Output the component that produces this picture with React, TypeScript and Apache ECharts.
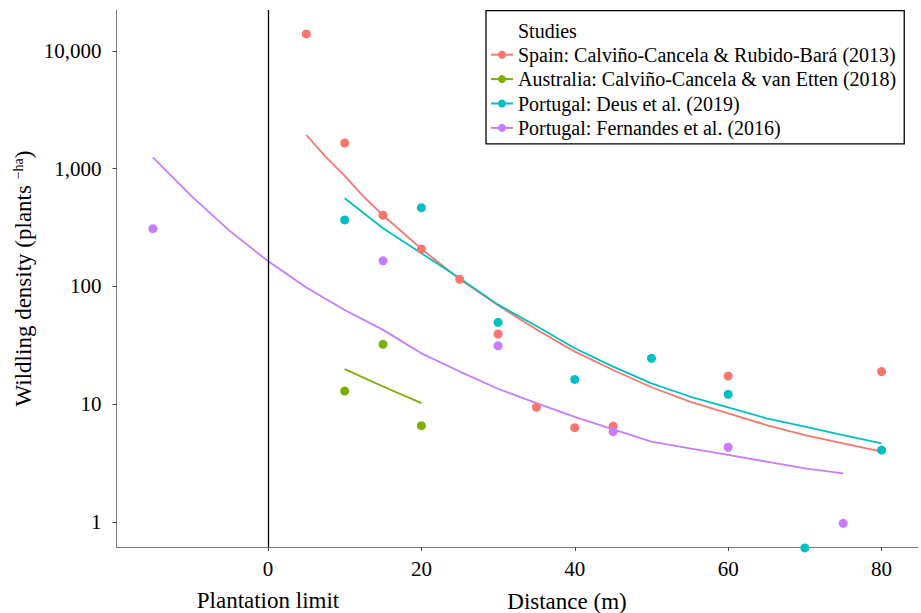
import React, { useEffect, useRef } from 'react';
import * as echarts from 'echarts';

const FONT = 'Liberation Serif, serif';

const studyNames = [
  'Spain: Calviño-Cancela & Rubido-Bará (2013)',
  'Australia: Calviño-Cancela & van Etten (2018)',
  'Portugal: Deus et al. (2019)',
  'Portugal: Fernandes et al. (2016)',
];
const studyColors = ['#F8766D', '#7CAE00', '#00BFC4', '#C77CFF'];

// Observed points (distance m, density plants/ha)
const spainPointX = [5, 10, 15, 20, 25, 30, 35, 40, 45, 60, 80];
const spainPointY = [13940, 1652, 402, 208, 115, 39.4, 9.4, 6.3, 6.5, 17.3, 18.9];
const australiaPointX = [10, 15, 20];
const australiaPointY = [12.9, 32.2, 6.56];
const deusPointX = [10, 20, 30, 40, 50, 60, 70, 80];
const deusPointY = [367, 466, 49.5, 16.2, 24.5, 12.1, 0.6, 4.07];
const fernandesPointX = [-15, 15, 30, 45, 60, 75];
const fernandesPointY = [309, 165, 31.3, 5.83, 4.3, 0.97];

// Fitted curves
const spainFitX = [5, 7.5, 10, 12.5, 15, 20, 25, 30, 35, 40, 45, 50, 55, 60, 65, 70, 75, 80];
const spainFitY = [1932, 1265, 870, 575, 402, 208, 115, 69, 43, 27.9, 19.5, 13.9, 10.5, 8.35, 6.64, 5.46, 4.64, 3.94];
const australiaFitX = [10, 15, 20];
const australiaFitY = [19.8, 14.1, 10.2];
const deusFitX = [10, 15, 20, 25, 30, 35, 40, 45, 50, 55, 60, 65, 70, 75, 80];
const deusFitY = [560, 312, 191, 117, 70, 46, 29.8, 20.8, 15.0, 11.6, 9.4, 7.57, 6.43, 5.46, 4.64];
const fernandesFitX = [-15, -10, -5, 0, 5, 10, 15, 20, 25, 30, 35, 40, 45, 50, 55, 60, 65, 70, 75];
const fernandesFitY = [1250, 587, 296, 164, 98, 63, 42.7, 27, 18.9, 13.5, 10.2, 7.8, 6.1, 4.8, 4.2, 3.7, 3.24, 2.85, 2.58];

const xTicks = [0, 20, 40, 60, 80];
const yTicks = [1, 10, 100, 1000, 10000];
const xMin = -19.75;
const xMax = 84.75;
const yMin = 0.611;
const yMax = 22280;

const pointXs = [spainPointX, australiaPointX, deusPointX, fernandesPointX];
const pointYs = [spainPointY, australiaPointY, deusPointY, fernandesPointY];
const fitXs = [spainFitX, australiaFitX, deusFitX, fernandesFitX];
const fitYs = [spainFitY, australiaFitY, deusFitY, fernandesFitY];

const lg = (v: number) => Math.log10(v);
const pairs = (xs: number[], ys: number[]) => xs.map((x, i) => [x, lg(ys[i])]);

export default function App() {
  const ref = useRef<HTMLDivElement>(null);
  useEffect(() => {
    if (!ref.current) return;
    const chart = echarts.init(ref.current, null, { renderer: 'svg' });
    const lineSeries: any[] = studyNames.map((name, i) => ({
      type: 'line',
      name,
      data: pairs(fitXs[i], fitYs[i]),
      symbol: 'none',
      showSymbol: false,
      color: studyColors[i],
      lineStyle: { width: 1.8, color: studyColors[i] },
      itemStyle: { color: studyColors[i] },
      silent: true,
      z: 2,
      emphasis: { disabled: true },
    }));
    lineSeries[0].markLine = {
      symbol: 'none',
      silent: true,
      label: { show: false },
      lineStyle: { color: '#000', width: 1.3, type: 'solid' },
      data: [{ xAxis: 0 }],
    };
    const scatterSeries = studyNames.map((name, i) => ({
      type: 'scatter',
      name,
      data: pairs(pointXs[i], pointYs[i]),
      symbol: 'circle',
      symbolSize: 9,
      clip: false,
      color: studyColors[i],
      itemStyle: { color: studyColors[i], opacity: 1 },
      z: 3,
      emphasis: { disabled: true },
    }));
    chart.setOption({
      animation: false,
      backgroundColor: '#fff',
      textStyle: { fontFamily: FONT },
      grid: {
        left: 116.5,
        top: 10,
        right: 3,
        bottom: 66,
        containLabel: false,
        outerBoundsMode: 'none',
      },
      xAxis: {
        type: 'value',
        min: xMin,
        max: xMax,
        splitLine: { show: false },
        axisLine: { show: true, onZero: false, lineStyle: { color: '#7a7a7a', width: 1 } },
        axisTick: { show: true, length: 4, lineStyle: { color: '#444' }, customValues: xTicks },
        axisLabel: {
          customValues: xTicks,
          fontSize: 21,
          lineHeight: 22,
          margin: 11,
          color: '#000',
          fontFamily: FONT,
          formatter: (v: number) => (v === 0 ? '0\n{p|Plantation limit}' : String(v)),
          rich: {
            p: { fontSize: 23, lineHeight: 41, color: '#000', fontFamily: FONT },
          },
        },
      },
      yAxis: {
        type: 'value',
        min: lg(yMin),
        max: lg(yMax),
        name: 'Wildling density (plants {sup|−ha})',
        nameLocation: 'middle',
        nameGap: 81,
        nameRotate: 90,
        nameMoveOverlap: false,
        nameTextStyle: {
          fontSize: 23,
          lineHeight: 24,
          color: '#000',
          fontFamily: FONT,
          rich: {
            sup: { fontSize: 14, lineHeight: 14, verticalAlign: 'top', color: '#000', fontFamily: FONT },
          },
        },
        splitLine: { show: false },
        axisLine: { show: true, onZero: false, lineStyle: { color: '#7a7a7a', width: 1 } },
        axisTick: { show: true, length: 4, lineStyle: { color: '#444' }, customValues: yTicks.map(lg) },
        axisLabel: {
          customValues: yTicks.map(lg),
          fontSize: 21,
          margin: 15,
          color: '#000',
          fontFamily: FONT,
          formatter: (v: number) => Math.round(Math.pow(10, v)).toLocaleString('en-US'),
        },
      },
      legend: {
        data: studyNames,
        orient: 'vertical',
        left: 486,
        top: 10.7,
        padding: [34, 8, 6, 4],
        itemWidth: 22,
        itemHeight: 10,
        itemGap: 4.4,
        borderColor: '#000',
        borderWidth: 1.3,
        align: 'left',
        selectedMode: false,
        textStyle: { fontSize: 20, lineHeight: 20, color: '#000', fontFamily: FONT },
      },
      graphic: [
        {
          type: 'text',
          left: 518,
          top: 21,
          silent: true,
          style: { text: 'Studies', fontSize: 20, fill: '#000', fontFamily: FONT },
        },
        {
          type: 'text',
          x: 567,
          y: 601,
          silent: true,
          style: {
            text: 'Distance (m)',
            fontSize: 23,
            fill: '#000',
            fontFamily: FONT,
            align: 'center',
            verticalAlign: 'middle',
          },
        },
      ],
      series: [...lineSeries, ...scatterSeries],
    });
    return () => chart.dispose();
  }, []);
  return (
    <div
      ref={ref}
      style={{ position: 'fixed', left: 0, top: 0, width: 921, height: 613, background: '#fff' }}
    />
  );
}
